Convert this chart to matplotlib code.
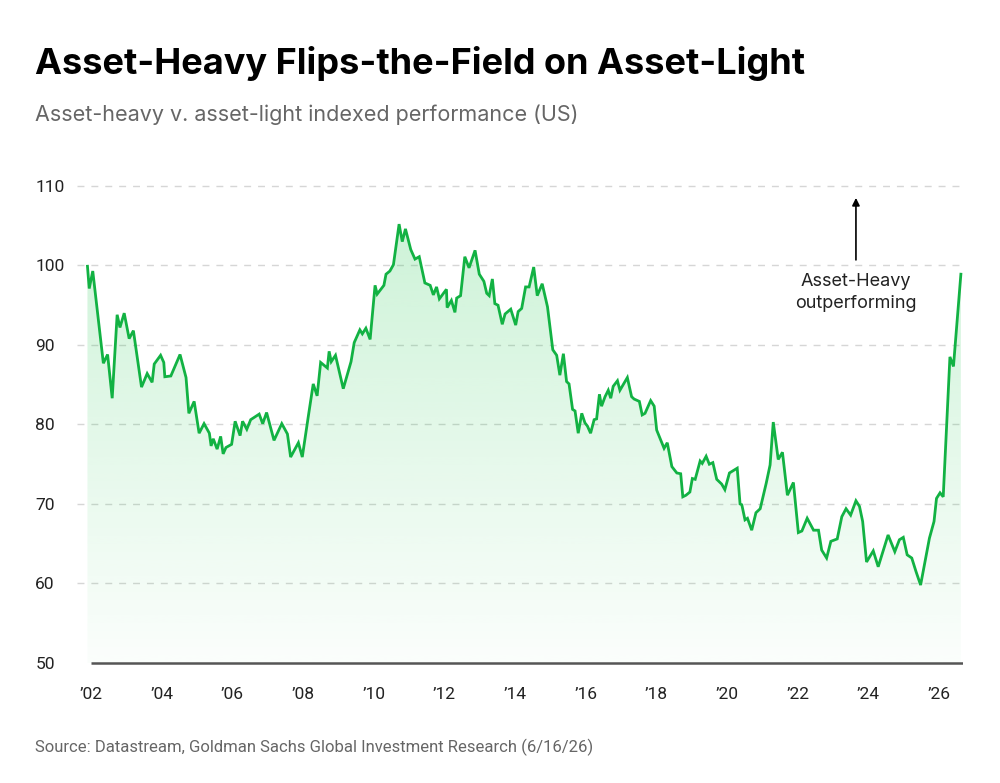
import numpy as np
import matplotlib.pyplot as plt
from matplotlib.colors import to_rgb

# asset-heavy vs asset-light index
years = [2001.90, 2001.95, 2002.05, 2002.35, 2002.47, 2002.60, 2002.74, 2002.82, 2002.94, 2003.08,
         2003.20, 2003.43, 2003.59, 2003.73, 2003.79, 2003.97, 2004.06, 2004.09, 2004.26, 2004.52,
         2004.69, 2004.77, 2004.92, 2005.06, 2005.20, 2005.35, 2005.40, 2005.46, 2005.57, 2005.67,
         2005.74, 2005.82, 2005.98, 2006.08, 2006.22, 2006.29, 2006.41, 2006.52, 2006.76, 2006.86,
         2006.97, 2007.18, 2007.40, 2007.56, 2007.65, 2007.87, 2007.98, 2008.15, 2008.29, 2008.40,
         2008.50, 2008.69, 2008.74, 2008.80, 2008.92, 2009.14, 2009.36, 2009.45, 2009.61, 2009.68,
         2009.78, 2009.90, 2010.04, 2010.10, 2010.29, 2010.35, 2010.46, 2010.56, 2010.72, 2010.81,
         2010.90, 2011.05, 2011.17, 2011.29, 2011.45, 2011.60, 2011.69, 2011.78, 2011.86, 2012.06,
         2012.08, 2012.20, 2012.30, 2012.35, 2012.46, 2012.58, 2012.70, 2012.87, 2012.99, 2013.12,
         2013.20, 2013.27, 2013.36, 2013.43, 2013.52, 2013.64, 2013.72, 2013.88, 2014.02, 2014.09,
         2014.19, 2014.30, 2014.40, 2014.53, 2014.63, 2014.77, 2014.92, 2015.07, 2015.18, 2015.27,
         2015.37, 2015.46, 2015.53, 2015.63, 2015.70, 2015.79, 2015.89, 2015.98, 2016.05, 2016.14,
         2016.24, 2016.31, 2016.39, 2016.45, 2016.55, 2016.64, 2016.71, 2016.78, 2016.90, 2016.97,
         2017.18, 2017.30, 2017.37, 2017.52, 2017.60, 2017.68, 2017.84, 2017.94, 2018.01, 2018.10,
         2018.22, 2018.31, 2018.44, 2018.58, 2018.69, 2018.75, 2018.84, 2018.95, 2019.02, 2019.10,
         2019.24, 2019.30, 2019.41, 2019.50, 2019.60, 2019.71, 2019.85, 2019.94, 2020.07, 2020.29,
         2020.37, 2020.42, 2020.51, 2020.58, 2020.70, 2020.82, 2020.94, 2021.11, 2021.22, 2021.31,
         2021.45, 2021.57, 2021.71, 2021.88, 2022.02, 2022.12, 2022.27, 2022.45, 2022.59, 2022.68,
         2022.82, 2022.94, 2023.12, 2023.25, 2023.37, 2023.50, 2023.65, 2023.75, 2023.84, 2023.95,
         2024.14, 2024.28, 2024.44, 2024.56, 2024.75, 2024.88, 2024.99, 2025.10, 2025.23, 2025.35,
         2025.48, 2025.73, 2025.86, 2025.93, 2026.03, 2026.12, 2026.31, 2026.41, 2026.62]
values = [99.9, 97.1, 99.3, 87.7, 88.8, 83.3, 93.8, 92.2, 94.0, 90.8,
          91.8, 84.7, 86.4, 85.3, 87.6, 88.7, 87.8, 86.0, 86.1, 88.8,
          85.9, 81.4, 82.9, 78.9, 80.1, 78.9, 77.3, 78.2, 76.9, 78.5,
          76.3, 77.1, 77.5, 80.4, 78.6, 80.4, 79.4, 80.6, 81.3, 80.1,
          81.5, 78.0, 80.1, 78.8, 75.9, 77.7, 75.9, 81.0, 85.1, 83.6,
          87.8, 87.1, 89.2, 87.9, 88.7, 84.5, 87.9, 90.3, 91.9, 91.4,
          92.1, 90.7, 97.5, 96.4, 97.5, 98.9, 99.3, 100.1, 105.2, 103.0,
          104.6, 102.0, 100.8, 101.1, 97.8, 97.5, 96.3, 97.3, 95.8, 97.0,
          94.7, 95.6, 94.1, 95.9, 96.2, 101.1, 99.7, 101.9, 98.9, 98.0,
          96.5, 96.2, 98.3, 95.2, 95.0, 92.6, 93.9, 94.5, 92.5, 94.2,
          94.6, 97.3, 97.3, 99.8, 96.2, 97.7, 94.8, 89.4, 88.7, 86.2,
          88.9, 85.4, 85.1, 81.9, 81.7, 78.9, 81.4, 80.2, 79.8, 78.9,
          80.6, 80.7, 83.8, 82.3, 83.5, 84.3, 83.3, 84.8, 85.5, 84.3,
          85.9, 83.5, 83.2, 82.9, 81.2, 81.4, 83.0, 82.3, 79.3, 78.3,
          77.0, 77.7, 74.7, 73.9, 73.8, 70.9, 71.1, 71.5, 73.2, 73.1,
          75.4, 75.1, 76.0, 75.0, 75.2, 73.1, 72.5, 71.8, 73.9, 74.5,
          70.0, 69.9, 68.0, 68.2, 66.7, 68.9, 69.4, 72.6, 74.9, 80.3,
          75.6, 76.5, 71.1, 72.7, 66.4, 66.6, 68.2, 66.7, 66.7, 64.2,
          63.2, 65.3, 65.6, 68.4, 69.4, 68.6, 70.4, 69.7, 67.8, 62.7,
          64.1, 62.1, 64.4, 66.1, 64.0, 65.5, 65.8, 63.6, 63.2, 61.5,
          59.8, 65.7, 67.8, 70.7, 71.4, 70.9, 88.5, 87.3, 98.9]

yticks = [50, 60, 70, 80, 90, 100, 110]
xticks = list(range(2002, 2027, 2))
xlabels = ["\u2019%02d" % (y % 100) for y in xticks]

green = '#12b243'
x0, x1 = 2001.604, 2026.68

fig = plt.figure(figsize=(10, 7.83), dpi=100)
ax = fig.add_axes([0.077, 0.133, 0.886, 0.6498])

# gradient fill under the line
fill = ax.fill_between(years, values, 50, color='none', lw=0)
grad = np.linspace(0.0, 1.0, 256)
rgba = np.zeros((256, 1, 4))
rgba[:, 0, :3] = to_rgb('#2ecc5a')
rgba[:, 0, 3] = 0.02 + 0.22 * grad
img = ax.imshow(rgba, extent=[years[0], years[-1], 50, 106], origin='lower',
                aspect='auto', interpolation='bicubic', zorder=1)
img.set_clip_path(fill.get_paths()[0], transform=ax.transData)
ax.set_xlim(x0, x1)
ax.set_ylim(48, 112)

ax.plot(years, values, color=green, lw=2.0, zorder=3, solid_joinstyle='miter')

for y in yticks[1:]:
    ax.axhline(y, color='#d6d6d6', lw=1.0, ls=(0, (5, 5)), zorder=0)
ax.hlines(50, 2002, x1, color='#555555', lw=1.8, zorder=2)

for s in ax.spines.values():
    s.set_visible(False)

ax.set_yticks(yticks)
ax.set_yticklabels([str(v) for v in yticks], fontfamily='Roboto', fontsize=12.5, color='#222222')
ax.tick_params(axis='y', length=0, pad=30)
for lab in ax.get_yticklabels():
    lab.set_horizontalalignment('left')
ax.set_xticks(xticks)
ax.set_xticklabels(xlabels, fontfamily='Roboto', fontsize=12.5, color='#222222')
ax.tick_params(axis='x', length=0, pad=6)

# annotation
ax.annotate('', xy=(2023.65, 108.5), xytext=(2023.65, 100.7),
            arrowprops=dict(arrowstyle='-|>', color='black', lw=1.2, mutation_scale=11,
                            shrinkA=0, shrinkB=0))
ax.text(2023.65, 96.6, 'Asset-Heavy\noutperforming', ha='center', va='center',
        fontfamily='Inter', fontsize=13, color='#222222', linespacing=1.45)

fig.text(0.035, 0.9055, 'Asset-Heavy Flips-the-Field on Asset-Light', fontfamily='Inter',
         fontweight='bold', fontsize=26, color='black', va='baseline')
fig.text(0.035, 0.8455, 'Asset-heavy v. asset-light indexed performance (US)', fontfamily='Inter',
         fontsize=15.5, color='#666666', va='baseline')
fig.text(0.035, 0.0396, 'Source: Datastream, Goldman Sachs Global Investment Research (6/16/26)',
         fontfamily='Roboto', fontsize=12, color='#666666', va='baseline')

fig.savefig('out.png', dpi=100, facecolor='white')
